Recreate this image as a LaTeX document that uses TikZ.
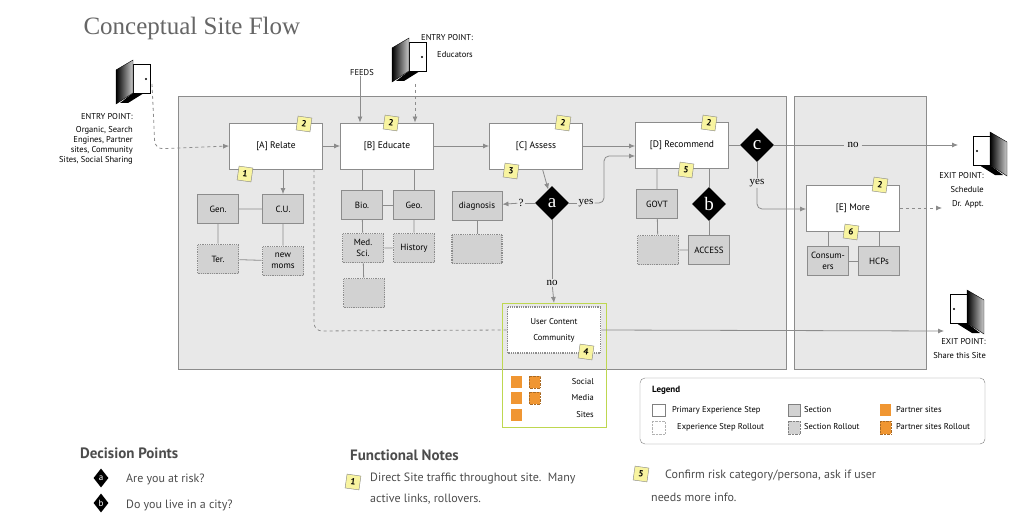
\documentclass[tikz,border=0pt]{standalone}
\usepackage{fontspec}
\setmainfont{PT Sans}
\newfontfamily\titlefont{Liberation Serif}
\usetikzlibrary{shapes.geometric,arrows.meta}
\definecolor{panelgray}{RGB}{232,232,232}
\definecolor{secgray}{RGB}{210,210,210}
\definecolor{linegray}{RGB}{140,140,140}
\definecolor{noteyellow}{RGB}{248,244,160}
\definecolor{partner}{RGB}{240,150,50}
\definecolor{uclime}{RGB}{190,215,80}
\tikzset{
  primbox/.style={draw=linegray, thick, fill=white, minimum width=93, minimum height=46, inner sep=1pt, font=\fontsize{9.5}{10}\selectfont},
  secbox/.style={draw=linegray, thick, fill=secgray, minimum width=41, minimum height=29, inner sep=1pt, align=center, font=\fontsize{9}{11}\selectfont},
  rollbox/.style={secbox, densely dotted, line width=1.6pt},
  decide/.style={diamond, fill=black, minimum width=34, minimum height=34, inner sep=0pt, text=white, font=\titlefont\fontsize{19}{19}\selectfont},
  badge/.style={draw=gray, fill=noteyellow, minimum size=14, inner sep=0pt, rotate=-8, font=\bfseries\fontsize{9}{9}\selectfont},
  conn/.style={linegray, thick},
  arr/.style={conn, -{Latex[length=6pt,width=5pt]}},
  dasharr/.style={arr, dashed},
  lbl/.style={font=\fontsize{8.5}{10}\selectfont, align=right, inner sep=0pt},
  yn/.style={font=\titlefont\fontsize{11}{11}\selectfont, inner sep=1pt, fill=panelgray},
  note/.style={font=\fontsize{12}{14}\selectfont, text=black!70, anchor=west, inner sep=0pt}
}
% door icon: #1 = top-left corner, #2 = xscale
\newcommand\doorpic[2]{%
  \begin{scope}[shift={#1}, xscale=#2]
    \fill[black] (6,33) -- (17,33) -- (30,43) -- (22,43) -- cycle;
    \draw[thick, fill=white] (0,4) rectangle (17,33);
    \fill (4,19) circle (1.2);
    \shade[left color=black, right color=gray!40, draw=black] (17,0) -- (34,10) -- (34,44) -- (17,33) -- cycle;
  \end{scope}}
\begin{document}
\begin{tikzpicture}[x=1pt, y=-1pt]
  \useasboundingbox[fill=white] (0,0) rectangle (1030,524);

  % Title
  \node[anchor=west, text=black!60, font=\titlefont\fontsize{25}{25}\selectfont] (title) at (80,28) {Conceptual Site Flow};

  % Panels
  \draw[linegray, thick, fill=panelgray] (178,96) rectangle (786,369);
  \draw[linegray, thick, fill=panelgray] (794,96) rectangle (926,369);

  % Primary steps
  \node[primbox] (A) at (276,146) {[A] Relate};
  \node[primbox] (B) at (387,146) {[B] Educate};
  \node[primbox] (C) at (536,146) {[C] Assess};
  \node[primbox] (D) at (682,145) {[D] Recommend};
  \node[primbox] (E) at (853,208) {[E] More};

  % Sections
  \node[secbox] (gen) at (218,209) {Gen.};
  \node[secbox] (cu) at (283,209) {C.U.};
  \node[rollbox] (ter) at (218,259) {Ter.};
  \node[rollbox] (moms) at (283,261) {new\\moms};
  \node[secbox] (bio) at (362,205) {Bio.};
  \node[secbox] (geo) at (414,205) {Geo.};
  \node[rollbox] (med) at (363,248) {Med.\\Sci.};
  \node[rollbox] (hist) at (414,248) {History};
  \node[rollbox] (medsub) at (364,293) {};
  \node[secbox, minimum width=50] (diag) at (477,206) {diagnosis};
  \node[rollbox, minimum width=50] (diagsub) at (477,249) {};
  \node[secbox] (govt) at (657,204) {GOVT};
  \node[rollbox] (govtsub) at (658,250) {};
  \node[secbox] (access) at (709,250) {ACCESS};
  \node[secbox] (cons) at (828,261) {Consum-\\ers};
  \node[secbox] (hcps) at (879,261) {HCPs};

  % Community
  \draw[uclime, thick] (502,303) rectangle (606,427);
  \node[primbox, densely dotted, line width=1.6pt, align=center, font=\fontsize{8.5}{16}\selectfont] (uc) at (554,330) {User Content\\Community};

  % Decisions
  \node[decide] (a) at (552,203) {a};
  \node[decide] (b) at (709,204) {b};
  \node[decide] (c) at (757,145) {c};

  % Section links
  \draw[conn] (gen) -- (cu) (gen) -- (ter) (cu) -- (moms) (ter) -- (moms);
  \draw[conn] (B.south -| bio) -- (bio) (B.south -| geo) -- (geo) (bio) -- (geo);
  \draw[conn] (bio) -- (med) (geo) -- (hist) (med) -- (hist) (med) -- (medsub);
  \draw[conn] (diag) -- (diagsub);
  \draw[conn] (D.south -| govt) -- (govt) (govt) -- (govtsub) (govtsub) -- (access);
  \draw[conn] (D.south -| b) -- (b) (b) -- (access);
  \draw[conn] (E.south -| cons) -- (cons) (E.south -| hcps) -- (hcps) (cons) -- (hcps);
  \draw[arr] (A.south -| cu) -- (cu);

  % Main flow
  \draw[arr] (A) -- (B);
  \draw[arr] (B) -- (C);
  \draw[arr] (C.east) -- (D.west |- C.east);
  \draw[conn] (D) -- (c);
  \draw[arr] (C) -- (a);
  \node[yn] (ayes) at (586,203) {yes};
  \node[yn] (aq) at (521,203) {?};
  \node[yn] (ano) at (552,283) {no};
  \draw[conn] (a) -- (ayes);
  \draw[arr, rounded corners=5] (ayes.east) -- (604,203) -- (604,156) -- (D.west |- 0,156);
  \draw[conn] (a) -- (aq);
  \draw[arr] (aq) -- (diag);
  \draw[conn] (a) -- (ano);
  \draw[arr] (ano) -- (uc.north |- 0,303);
  \node[yn, inner sep=3pt] (cno) at (853,145) {no};
  \node[yn] (cyes) at (757,183) {yes};
  \draw[conn] (c) -- (cno);
  \coordinate (exit1) at (958,145);
  \draw[arr] (cno) -- (exit1);
  \draw[conn] (c) -- (cyes);
  \draw[arr, rounded corners=5] (cyes.south) -- (757,209) -- (E.west |- 0,209);
  \coordinate (appt) at (942,208);
  \draw[dasharr] (E.east |- 0,208) -- (appt);
  \coordinate (exit2) at (944,331);
  \draw[arr] (uc.east) -- (exit2);
  \draw[conn, dashed, rounded corners=8] (314,169) -- (314,331) -- (uc.west);

  % Entry points
  \doorpic{(150,60)}{-1}
  \doorpic{(426,38)}{-1}
  \node[lbl, anchor=north east] (entry1) at (133,113) {ENTRY POINT:\\[3pt]Organic, Search\\Engines, Partner\\sites, Community\\Sites, Social Sharing};
  \node[lbl, anchor=west] (entry2) at (421,38) {ENTRY POINT:};
  \node[lbl, anchor=west] (edu) at (437,55) {Educators};
  \node[lbl] (feeds) at (362,73) {FEEDS};
  \coordinate (edutop) at (415,84);
  \coordinate (doortop) at (152,84);
  \draw[arr] (feeds.south -| 360,0) -- (A.north -| 360,0);
  \draw[dasharr] (edutop) -- (B.north -| edutop);
  \draw[dasharr, rounded corners=8] (doortop) -- (155,149) -- (A.west);

  % Exit points
  \doorpic{(973,132)}{1}
  \doorpic{(950,290)}{1}
  \node[lbl, anchor=north east] (exitA) at (984,172) {EXIT POINT:\\[4pt]Schedule\\[4pt]Dr. Appt.};
  \node[lbl, anchor=north east] (exitB) at (986,338) {EXIT POINT:\\[4pt]Share this Site};

  % Sticky notes
  \node[badge] (nA2) at (304,124) {2};
  \node[badge] (nA1) at (245,174) {1};
  \node[badge] (nB2) at (391,123) {2};
  \node[badge] (nC2) at (563,123) {2};
  \node[badge] (nC3) at (511,171) {3};
  \node[badge] (nD2) at (709,123) {2};
  \node[badge] (nD5) at (686,170) {5};
  \node[badge] (nE2) at (880,185) {2};
  \node[badge] (nE6) at (851,232) {6};
  \node[badge] (nU4) at (586,352) {4};

  % Social media sites
  \foreach \y in {382, 398, 415}
    \fill[partner] (511,\y-6) rectangle (522,\y+6);
  \foreach \y in {382, 398}
    \draw[partner!70!black, densely dotted, fill=partner] (529,\y-6) rectangle (540,\y+6);
  \node[lbl, anchor=east] (soc) at (594,382) {Social};
  \node[lbl, anchor=east] (med2) at (594,398) {Media};
  \node[lbl, anchor=east] (sites) at (594,415) {Sites};

  % Legend
  \draw[gray, fill=white, rounded corners=5] (640,378) rectangle (985,444);
  \node[lbl, anchor=west, font=\bfseries\fontsize{9}{10}\selectfont] (leg) at (652,390) {Legend};
  \draw[gray] (652,404) rectangle (665,416);
  \draw[gray!60, densely dotted] (652,421) rectangle (665,434);
  \node[lbl, anchor=west] (l1) at (672,410) {Primary Experience Step};
  \node[lbl, anchor=west] (l2) at (677,427) {Experience Step Rollout};
  \draw[gray, fill=secgray] (788,404) rectangle (800,416);
  \draw[gray, densely dotted, fill=secgray] (788,421) rectangle (800,434);
  \node[lbl, anchor=west] (l3) at (804,410) {Section};
  \node[lbl, anchor=west] (l4) at (804,427) {Section Rollout};
  \fill[partner] (880,404) rectangle (891,416);
  \draw[partner!70!black, densely dotted, fill=partner] (880,421) rectangle (891,434);
  \node[lbl, anchor=west] (l5) at (896,410) {Partner sites};
  \node[lbl, anchor=west] (l6) at (896,427) {Partner sites Rollout};

  % Decision points
  \node[note, font=\bfseries\fontsize{15}{15}\selectfont] (dp) at (80,453) {Decision Points};
  \node[decide, minimum width=15, minimum height=19, font=\fontsize{9}{9}\selectfont] (qa) at (101,478) {a};
  \node[decide, minimum width=15, minimum height=19, font=\fontsize{9}{9}\selectfont] (qb) at (101,503) {b};
  \node[note] (qat) at (126,479) {Are you at risk?};
  \node[note] (qbt) at (126,505) {Do you live in a city?};

  % Functional notes
  \node[note, font=\bfseries\fontsize{15}{15}\selectfont] (fn) at (350,455) {Functional Notes};
  \node[badge] (f1) at (353,482) {1};
  \node[note] (f1a) at (370,478) {Direct Site traffic throughout site.\ \ Many};
  \node[note] (f1b) at (370,499) {active links, rollovers.};
  \node[badge] (f5) at (641,474) {5};
  \node[note] (f5a) at (665,475) {Confirm risk category/persona, ask if user};
  \node[note] (f5b) at (651,497) {needs more info.};
\end{tikzpicture}
\end{document}
